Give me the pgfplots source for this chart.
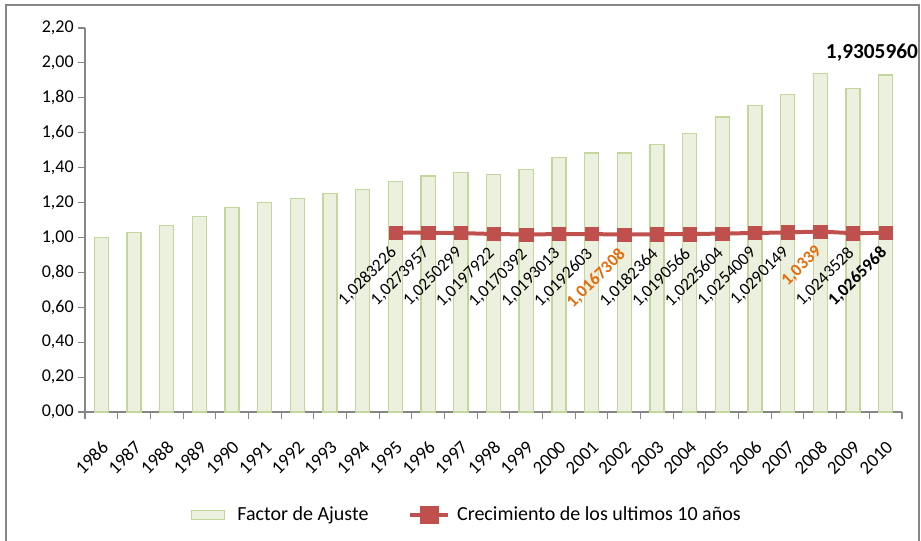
\documentclass[border=0pt]{standalone}
\usepackage{pgfplots}
\pgfplotsset{compat=1.18}
\usepackage{fontspec}
\setmainfont{Carlito}
\definecolor{barfill}{HTML}{EBF1DE}
\definecolor{bardraw}{HTML}{C3D69B}
\definecolor{linec}{HTML}{C0504D}
\definecolor{orng}{HTML}{E46C0A}
\definecolor{axgray}{HTML}{868686}
\begin{document}
\begin{tikzpicture}
\useasboundingbox (-63.75pt,-96pt) rectangle (627pt,309pt);
\draw[color=axgray, line width=0.8pt] (-59.25pt,-98pt) rectangle (625.5pt,305.25pt);
\begin{axis}[
  at={(0pt,0pt)}, anchor=south west,
  scale only axis, width=612.75pt, height=288pt,
  xmin=-0.5, xmax=24.5, ymin=0, ymax=2.2,
  axis x line*=bottom, axis y line*=left,
  axis line style={axgray, line width=0.8pt},
  tick align=outside, major tick length=5pt,
  tick style={axgray, line width=0.8pt},
  xtick={-0.5,0.5,...,24.5},
  x tick label as interval,
  xticklabels={1986,1987,1988,1989,1990,1991,1992,1993,1994,1995,1996,1997,1998,1999,2000,2001,2002,2003,2004,2005,2006,2007,2008,2009,2010},
  xticklabel style={font=\fontsize{14}{16}\selectfont, xshift=3pt, yshift=-19pt, rotate=45, anchor=east, inner sep=0pt},
  ytick={0,0.2,0.4,0.6,0.8,1.0,1.2,1.4,1.6,1.8,2.0,2.2},
  yticklabel style={font=\fontsize{13.5}{16}\selectfont},
  /pgf/number format/.cd, fixed, fixed zerofill, precision=2, use comma, assume math mode=true,
  /pgfplots/.cd,
  legend style={at={(0.466,-0.268)}, anchor=center, legend columns=2, draw=none,
    font=\fontsize{15}{17}\selectfont, nodes={inner xsep=0pt},
    /tikz/every even column/.append style={column sep=30pt}},
  clip=false,
]
\addplot[ybar, bar width=0.43, fill=barfill, draw=bardraw, line width=1pt,
  legend image code/.code={\draw[fill=barfill, draw=bardraw, line width=1pt] (0pt,-3.5pt) rectangle (25pt,3.5pt);}]
coordinates {
(0,1.000) (1,1.027) (2,1.070) (3,1.121) (4,1.173) (5,1.200) (6,1.225) (7,1.251) (8,1.276)
(9,1.320) (10,1.352) (11,1.371) (12,1.362) (13,1.389) (14,1.457) (15,1.484) (16,1.484)
(17,1.534) (18,1.595) (19,1.691) (20,1.757) (21,1.818) (22,1.939) (23,1.853) (24,1.9306)
};
\addlegendentry{\hspace{9pt}Factor de Ajuste}
\addplot[color=linec, line width=3pt, mark=square*, mark size=5pt, mark options={line width=0.4pt},
  nodes near coords, point meta=explicit symbolic,
  every node near coord/.append style={font=\fontsize{13}{15}\selectfont, text=black, xshift=-1pt, yshift=-13pt, rotate=45, anchor=east, inner sep=0pt},
  legend image code/.code={\draw[linec, line width=3pt] (0pt,0pt) -- (28.5pt,0pt); \fill[linec] (8.75pt,-5pt) rectangle (19.75pt,5pt);}]
coordinates {
(9,1.0283226) [1,0283226]
(10,1.0273957) [1,0273957]
(11,1.0250299) [1,0250299]
(12,1.0197922) [1,0197922]
(13,1.0170392) [1,0170392]
(14,1.0193013) [1,0193013]
(15,1.0192603) [1,0192603]
(16,1.0167308) [\textcolor{orng}{\bfseries 1,0167308}]
(17,1.0182364) [1,0182364]
(18,1.0190566) [1,0190566]
(19,1.0225604) [1,0225604]
(20,1.0254009) [1,0254009]
(21,1.0290149) [1,0290149]
(22,1.0339) [\textcolor{orng}{\bfseries 1,0339}]
(23,1.0243528) [1,0243528]
(24,1.0265968) [\bfseries 1,0265968]
};
\addlegendentry{\hspace{5pt}Crecimiento de los ultimos 10 años}
\node[font=\fontsize{16}{19}\selectfont\bfseries] at (axis cs:23.58,2.057) {1,9305960};
\end{axis}
\end{tikzpicture}
\end{document}
